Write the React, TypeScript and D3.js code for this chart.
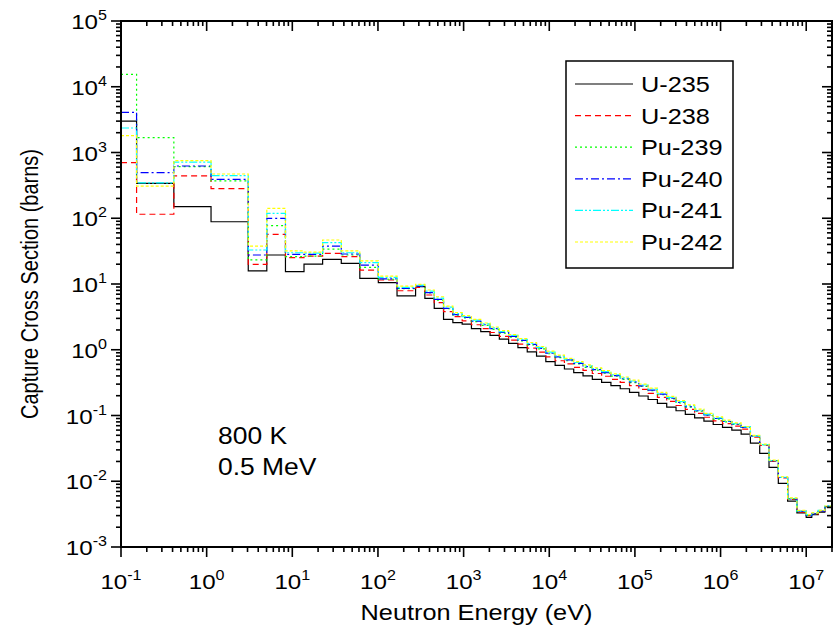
import React, { useEffect, useRef } from 'react';
import * as d3 from 'd3';

// group boundaries (eV)
const energyBounds = [
  0.1, 0.152, 0.414, 1.125, 3.06, 5.04, 8.32, 13.7, 22.6, 37.3, 61.4, 101, 167, 275,
  353, 454, 583, 749, 962, 1234, 1585, 2035, 2613, 3355, 4307, 5531, 7102, 9119,
  11709, 15034, 19305, 24788, 31828, 40868, 52475, 67379, 86517, 111090, 142642,
  183156, 235177, 301974, 387742, 497871, 639279, 820850, 1053992, 1353353, 1737739,
  2231302, 2865048, 3678794, 4723666, 6065307, 7788008, 1e7, 1.16e7, 1.38e7, 1.65e7, 2e7,
];

// capture cross sections per group (barns)
const u235 = [
  3010, 340, 150, 88.5, 15.8, 27.6, 15.4, 20.1, 23.7, 20.6, 12.2, 10.5, 6.6, 9.1, 6.06, 4.27, 2.9,
  2.58, 2.45, 2.1, 1.88, 1.65, 1.45, 1.25, 1.08, 0.93, 0.8, 0.66, 0.58, 0.51, 0.45, 0.4, 0.355,
  0.318, 0.285, 0.255, 0.225, 0.198, 0.175, 0.153, 0.134, 0.118, 0.104, 0.092, 0.082, 0.073,
  0.066, 0.06, 0.052, 0.038, 0.0266, 0.0163, 0.0093, 0.005, 0.0033, 0.00283, 0.0031, 0.0034, 0.0041,
];
const u238 = [
  700, 115, 440, 282, 19.9, 57, 25.1, 26.5, 29.3, 26, 16.3, 11.5, 7.9, 8.9, 6.8, 5.2, 3.8,
  3.18, 2.75, 2.4, 2.1, 1.83, 1.6, 1.4, 1.22, 1.06, 0.92, 0.78, 0.68, 0.61, 0.54, 0.485, 0.435,
  0.395, 0.355, 0.318, 0.285, 0.25, 0.217, 0.188, 0.164, 0.142, 0.124, 0.108, 0.094, 0.083,
  0.075, 0.069, 0.062, 0.047, 0.035, 0.02, 0.0112, 0.0053, 0.0034, 0.003, 0.0032, 0.0035, 0.0041,
];
const pu239 = [
  15450, 1680, 608, 369, 23.2, 77, 26, 26.6, 34, 27.6, 17.9, 11.8, 8.5, 9.2, 7.3, 5.7, 4.2,
  3.35, 3.04, 2.67, 2.35, 2.04, 1.79, 1.56, 1.36, 1.19, 1.03, 0.87, 0.76, 0.68, 0.61, 0.54, 0.49,
  0.44, 0.396, 0.354, 0.317, 0.276, 0.239, 0.207, 0.179, 0.155, 0.134, 0.116, 0.1, 0.088,
  0.08, 0.073, 0.066, 0.049, 0.036, 0.0205, 0.0114, 0.0054, 0.0035, 0.003, 0.0032, 0.0035, 0.0041,
];
const pu240 = [
  4090, 493, 623, 391, 27.6, 99.8, 28.3, 28.3, 37.8, 28.6, 19.4, 12.0, 8.6, 9.3, 7.4, 5.85, 4.27,
  3.42, 3.1, 2.73, 2.4, 2.09, 1.83, 1.6, 1.39, 1.21, 1.05, 0.89, 0.78, 0.7, 0.62, 0.555, 0.5,
  0.45, 0.405, 0.362, 0.324, 0.282, 0.244, 0.212, 0.183, 0.158, 0.136, 0.118, 0.102, 0.09,
  0.081, 0.074, 0.066, 0.049, 0.036, 0.0205, 0.0114, 0.0054, 0.0035, 0.003, 0.0032, 0.0035, 0.0042,
];
const pu241 = [
  2360, 345, 716, 444, 32.9, 119, 29.9, 29.5, 42.5, 29.9, 21.1, 12.6, 8.9, 9.6, 7.8, 6.1, 4.45,
  3.55, 3.2, 2.82, 2.47, 2.15, 1.89, 1.65, 1.44, 1.25, 1.09, 0.92, 0.805, 0.72, 0.64, 0.57, 0.515,
  0.465, 0.417, 0.373, 0.335, 0.291, 0.252, 0.218, 0.189, 0.163, 0.141, 0.121, 0.105, 0.092,
  0.083, 0.075, 0.067, 0.049, 0.036, 0.0206, 0.0115, 0.0055, 0.0035, 0.0031, 0.0033, 0.0036, 0.0042,
];
const pu242 = [
  1800, 309, 750, 471, 37.8, 141.6, 31.8, 30.5, 46.7, 31.8, 22.4, 13.2, 9.3, 9.9, 8.1, 6.4, 4.6,
  3.66, 3.3, 2.9, 2.55, 2.22, 1.95, 1.7, 1.48, 1.29, 1.12, 0.95, 0.83, 0.74, 0.66, 0.59, 0.53,
  0.48, 0.43, 0.385, 0.345, 0.3, 0.26, 0.225, 0.195, 0.168, 0.145, 0.125, 0.108, 0.095,
  0.085, 0.077, 0.068, 0.05, 0.0368, 0.021, 0.0117, 0.0056, 0.0036, 0.0031, 0.0033, 0.0036, 0.0042,
];

const seriesNames = ['U-235', 'U-238', 'Pu-239', 'Pu-240', 'Pu-241', 'Pu-242'];
const seriesValues = [u235, u238, pu239, pu240, pu241, pu242];
const seriesColors = ['#000000', '#ff0000', '#00ff00', '#0000ff', '#00ffff', '#ffff00'];
const seriesDashes = ['none', '6,4', '2,3', '8,3,2,3', '8,2,2,2,2,2', '3,2'];

const xTickExps = [-1, 0, 1, 2, 3, 4, 5, 6, 7];
const yTickExps = [-3, -2, -1, 0, 1, 2, 3, 4, 5];
const notes = ['800 K', '0.5 MeV'];

const FONT = '"Liberation Sans", Arial, sans-serif';
const STRETCH = 1.15; // text in the original is a little wider than tall

export default function App() {
  const ref = useRef<SVGSVGElement>(null);
  const width = 833;
  const height = 636;
  const margin = { Top: 21, Right: 1, Bottom: 89, Left: 121 };

  useEffect(() => {
    document.body.style.margin = '0';
    const svg = d3.select(ref.current);
    svg.selectAll('*').remove();

    const x = d3.scaleLog().domain([0.1, 2e7]).range([margin.Left, width - margin.Right]);
    const y = d3.scaleLog().domain([1e-3, 1e5]).range([height - margin.Bottom, margin.Top]);
    const [x0, x1] = x.range();
    const [y0, y1] = y.range();

    // text placed at (tx,ty), widened horizontally
    const label = (tx: number, ty: number, size: number, anchor: string, rot = 0) =>
      svg.append('g')
        .attr('transform', `translate(${tx},${ty}) scale(${STRETCH},1)${rot ? ` rotate(${rot})` : ''}`)
        .append('text')
        .attr('text-anchor', anchor)
        .attr('font-family', FONT)
        .attr('font-size', size)
        .attr('fill', '#000');

    // ------------ curves --------------
    const line = d3.line<[number, number]>()
      .x((d) => x(d[0]))
      .y((d) => y(d[1]))
      .curve(d3.curveStepAfter);

    seriesValues.forEach((vals, s) => {
      const pts: [number, number][] = energyBounds.map((e, i) => [e, vals[Math.min(i, vals.length - 1)]]);
      svg.append('path')
        .datum(pts)
        .attr('d', line)
        .attr('fill', 'none')
        .attr('stroke', seriesColors[s])
        .attr('stroke-width', 1.2)
        .attr('stroke-dasharray', seriesDashes[s]);
    });

    // ------------ ticks ---------------
    const majorX = xTickExps.map((p) => Math.pow(10, p));
    const minorX: number[] = [];
    for (let p = -1; p <= 7; p++) for (let m = 2; m <= 9; m++) {
      const v = m * Math.pow(10, p);
      if (v <= 2e7) minorX.push(v);
    }
    const majorY = yTickExps.map((p) => Math.pow(10, p));
    const minorY: number[] = [];
    for (let p = -3; p < 5; p++) for (let m = 2; m <= 9; m++) minorY.push(m * Math.pow(10, p));

    const ticks = svg.append('g').attr('stroke', '#000').attr('stroke-width', 1.6);
    const tick = (xa: number, ya: number, xb: number, yb: number) =>
      ticks.append('line').attr('x1', xa).attr('y1', ya).attr('x2', xb).attr('y2', yb);

    majorX.forEach((v) => { tick(x(v), y0, x(v), y0 + 10); tick(x(v), y1, x(v), y1 + 10); });
    minorX.forEach((v) => { tick(x(v), y0, x(v), y0 + 5); tick(x(v), y1, x(v), y1 + 5); });
    majorY.forEach((v) => { tick(x0, y(v), x0 - 10, y(v)); tick(x1, y(v), x1 - 10, y(v)); });
    minorY.forEach((v) => { tick(x0, y(v), x0 - 5, y(v)); tick(x1, y(v), x1 - 5, y(v)); });

    // frame
    svg.append('rect')
      .attr('x', x0).attr('y', y1)
      .attr('width', x1 - x0).attr('height', y0 - y1)
      .attr('fill', 'none').attr('stroke', '#000').attr('stroke-width', 2);

    // ------------ tick labels ----------
    xTickExps.forEach((p) => {
      const t = label(x(Math.pow(10, p)), y0 + 42, 21, 'middle');
      t.append('tspan').text('10');
      t.append('tspan').attr('dy', -9).attr('font-size', 14).text(String(p));
    });
    yTickExps.forEach((p) => {
      const t = label(x0 - 14, y(Math.pow(10, p)) + 8, 21, 'end');
      t.append('tspan').text('10');
      t.append('tspan').attr('dy', -9).attr('font-size', 14).text(String(p));
    });

    // ------------ axis titles -----------
    label((x0 + x1) / 2, 620, 22, 'middle').text('Neutron Energy (eV)');
    label(38, (y0 + y1) / 2, 20, 'middle', -90).text('Capture Cross Section (barns)');

    // ------------ annotation ------------
    notes.forEach((n, i) => {
      label(218, 444 + i * 31, 23, 'start').text(n);
    });

    // ------------ legend ----------------
    svg.append('rect')
      .attr('x', 566).attr('y', 61).attr('width', 167).attr('height', 207)
      .attr('fill', '#fff').attr('stroke', '#000').attr('stroke-width', 1.5);
    seriesNames.forEach((name, s) => {
      const cy = 84 + s * 31.6;
      svg.append('line')
        .attr('x1', 575).attr('x2', 633).attr('y1', cy).attr('y2', cy)
        .attr('stroke', seriesColors[s]).attr('stroke-width', 1.2)
        .attr('stroke-dasharray', seriesDashes[s]);
      label(641, cy + 8, 22, 'start').text(name);
    });
  }, []);

  return (
    <svg ref={ref} width={width} height={height}
      style={{ display: 'block', position: 'absolute', left: 0, top: 0, background: '#fff' }} />
  );
}
